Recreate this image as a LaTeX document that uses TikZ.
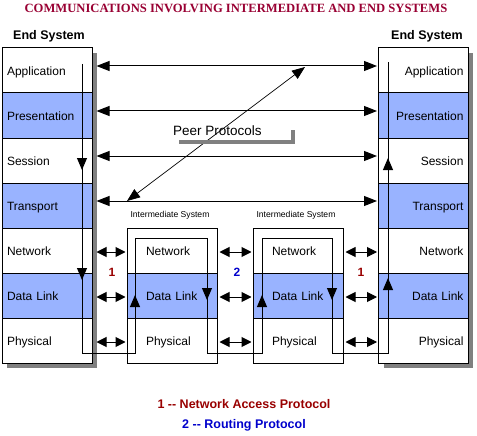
\documentclass[tikz,border=0pt]{standalone}
\usepackage{fontspec}
\setmainfont{Liberation Sans}
\newfontfamily\titlefont{Liberation Serif}
\usetikzlibrary{arrows.meta}
\definecolor{layerblue}{RGB}{153,179,255}
\definecolor{titlered}{RGB}{153,0,51}
\definecolor{numred}{RGB}{153,0,0}
\definecolor{numblue}{RGB}{0,0,204}
\definecolor{shadowgray}{RGB}{128,128,128}
\tikzset{
  layer/.style={draw=black, line width=1pt, minimum width=90pt, minimum height=45pt,
    inner ysep=0pt, text height=10pt, text depth=0pt, font=\fontsize{12}{13}\selectfont},
  lbox/.style={layer, text width=80pt, align=left, inner xsep=5pt},
  rbox/.style={layer, text width=80pt, align=right, inner xsep=5pt},
  ibox/.style={layer, text width=52pt, align=left, inner xsep=19pt},
  shaded/.style={fill=layerblue},
  plain/.style={fill=white},
  peer/.style={line width=1pt, {Triangle[length=13pt,width=10pt]}-{Triangle[length=13pt,width=10pt]}},
  hop/.style={line width=1pt, {Triangle[length=10pt,width=10pt]}-{Triangle[length=10pt,width=10pt]}},
  flowtip/.style={line width=1pt, -{Triangle[length=12pt,width=10pt]}},
  systitle/.style={font=\bfseries\fontsize{12.5}{13}\selectfont},
  istitle/.style={font=\fontsize{8.6}{9}\selectfont},
  num/.style={font=\bfseries\fontsize{12}{13}\selectfont},
  legend/.style={font=\bfseries\fontsize{12.5}{13}\selectfont},
}
\begin{document}
\begin{tikzpicture}[x=1pt,y=-1pt]
\useasboundingbox[fill=white] (0,0) rectangle (477,436);
% title
\node[font=\titlefont\bfseries\fontsize{12.6}{13}\selectfont, text=titlered] (title) at (236,8) {COMMUNICATIONS INVOLVING INTERMEDIATE AND END SYSTEMS};
\node[systitle] (lend) at (49,36) {End System};
\node[systitle] (rend) at (427,36) {End System};
% shadows
\fill[shadowgray] (7,53) rectangle (97,368);
\fill[shadowgray] (384,53) rectangle (473,368);
% left end system
\node[lbox, plain]  (Lapp)   at (47,70.5)  {Application};
\node[lbox, shaded] (Lpres)  at (47,115.5) {Presentation};
\node[lbox, plain]  (Lsess)  at (47,160.5) {Session};
\node[lbox, shaded] (Ltrans) at (47,205.5) {Transport};
\node[lbox, plain]  (Lnet)   at (47,250.5) {Network};
\node[lbox, shaded] (Ldl)    at (47,295.5) {Data Link};
\node[lbox, plain]  (Lphy)   at (47,340.5) {Physical};
% right end system
\node[rbox, plain]  (Rapp)   at (423.5,70.5)  {Application};
\node[rbox, shaded] (Rpres)  at (423.5,115.5) {Presentation};
\node[rbox, plain]  (Rsess)  at (423.5,160.5) {Session};
\node[rbox, shaded] (Rtrans) at (423.5,205.5) {Transport};
\node[rbox, plain]  (Rnet)   at (423.5,250.5) {Network};
\node[rbox, shaded] (Rdl)    at (423.5,295.5) {Data Link};
\node[rbox, plain]  (Rphy)   at (423.5,340.5) {Physical};
% intermediate systems
\node[istitle] (is1) at (170,215) {Intermediate System};
\node[istitle] (is2) at (296,215) {Intermediate System};
\node[ibox, plain]  (Anet) at (172,250.5) {Network};
\node[ibox, shaded] (Adl)  at (172,295.5) {Data Link};
\node[ibox, plain]  (Aphy) at (172,340.5) {Physical};
\node[ibox, plain]  (Bnet) at (298,250.5) {Network};
\node[ibox, shaded] (Bdl)  at (298,295.5) {Data Link};
\node[ibox, plain]  (Bphy) at (298,340.5) {Physical};
% peer protocol arrows
\draw[peer] ([shift={(4,-4.5)}]Lapp.east)   -- ([shift={(-1,-4.5)}]Rapp.west);
\draw[peer] ([shift={(4,-4.5)}]Lpres.east)  -- ([shift={(-1,-4.5)}]Rpres.west);
\draw[peer] ([shift={(4,-4.5)}]Lsess.east)  -- ([shift={(-1,-4.5)}]Rsess.west);
\draw[peer] ([shift={(4,-4.5)}]Ltrans.east) -- ([shift={(-1,-4.5)}]Rtrans.west);
\coordinate (dtop) at (305,67);
\coordinate (dbot) at (127,201);
\draw[line width=0.7pt, {Triangle[length=13pt,width=10pt]}-{Triangle[length=13pt,width=10pt]}] (dtop) -- (dbot);
\draw[shadowgray, line width=4pt, line join=miter] (179,142) -- (292.5,142) -- (292.5,130);
\node[anchor=west, font=\fontsize{13.5}{14}\selectfont, inner sep=0pt] (peerlbl) at (173,131) {Peer Protocols};
% hop arrows
\foreach \a/\b in {Lnet/Anet, Ldl/Adl, Lphy/Aphy}{
  \draw[hop] ([shift={(4,1.5)}]\a.east) -- ([shift={(-1,1.5)}]\b.west);}
\foreach \a/\b in {Anet/Bnet, Adl/Bdl, Aphy/Bphy, Bnet/Rnet, Bdl/Rdl, Bphy/Rphy}{
  \draw[hop] ([shift={(2,1.5)}]\a.east) -- ([shift={(-1,1.5)}]\b.west);}
% data path
\coordinate (p0) at (82,64);
\coordinate (p13) at (388,62);
\draw[line width=1pt] (p0) -- (82,353) -- (135,353) -- (135,238) -- (207,238) -- (207,353)
  -- (262,353) -- (262,238) -- (332,238) -- (332,353) -- (388,353) -- (p13);
\draw[flowtip] (82,158) -- (82,170);
\draw[flowtip] (82,268) -- (82,280);
\draw[flowtip] (135,307) -- (135,295);
\draw[flowtip] (207,288) -- (207,300);
\draw[flowtip] (262,307) -- (262,295);
\draw[flowtip] (332,288) -- (332,300);
\draw[flowtip] (388,170) -- (388,158);
\draw[flowtip] (388,291) -- (388,278);
% numbers
\node[num, text=numred]  (n1a) at (112,272) {1};
\node[num, text=numblue] (n2)  at (237,272) {2};
\node[num, text=numred]  (n1b) at (361,272) {1};
% legend
\node[legend, text=numred]  (leg1) at (244,404) {1 {-}{-} Network Access Protocol};
\node[legend, text=numblue] (leg2) at (244,425) {2 {-}{-} Routing Protocol};
\end{tikzpicture}
\end{document}
